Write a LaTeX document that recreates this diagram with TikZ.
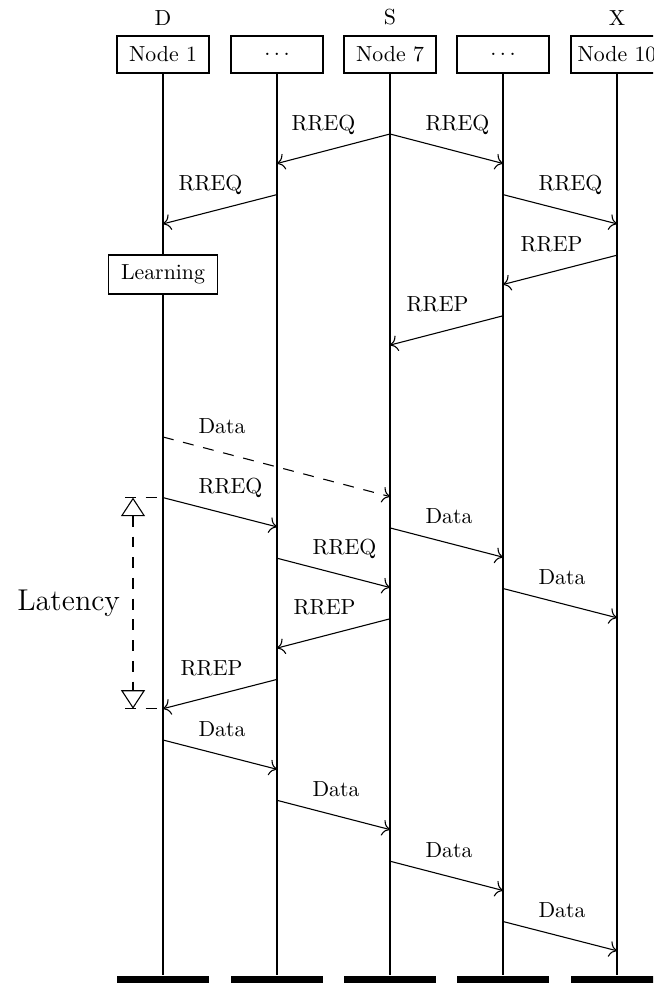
\documentclass[tikz,border=0pt]{standalone}
\usepackage{fontspec}
\usepackage{tikz}
\usetikzlibrary{positioning}
\usetikzlibrary{calc}
\usetikzlibrary{arrows.meta}

\begin{document}
\begin{tikzpicture}[x=0.4587pt,y=-0.4587pt,line width=0.5pt,
  thread/.style={draw,fill=white,minimum width=42.2pt,minimum height=17pt,inner sep=2pt},
  learnbox/.style={draw,fill=white,minimum width=50pt,minimum height=17.9pt,inner sep=2pt},
  endbar/.style={fill=black,minimum width=42.2pt,minimum height=8pt,inner sep=0pt,anchor=north},
  role/.style={above=1pt of #1},
  mess/.style={-{To[scale=1.3]}},
  dmess/.style={-{To[scale=1.3]},dash pattern=on 5pt off 4.5pt},
  dashline/.style={dash pattern=on 5pt off 4.5pt},
  latency/.style={{Triangle[open,length=8.5pt,width=11pt]}-{Triangle[open,length=8.5pt,width=11pt]},dash pattern=on 5pt off 4.5pt},
  lblL/.style={pos=0,anchor=base east,inner sep=0pt,xshift=-15.6pt,yshift=1.8pt},
  lblR/.style={pos=0,anchor=base west,inner sep=0pt,xshift=16.05pt,yshift=1.8pt}]
\clip (0,0) rectangle (653,983);

% threads
\node[thread](n1) at (163,54.5){Node 1};
\node[thread](n2) at (277,54.5){$\ldots$};
\node[thread](n3) at (390,54.5){Node 7};
\node[thread](n4) at (503,54.5){$\ldots$};
\node[thread](n5) at (617,54.5){Node 10};
\node[role=n1](roleD){D};
\node[role=n3](roleS){S};
\node[role=n5](roleX){X};
\node[learnbox](learn) at (163,274.5){Learning};
\node[endbar](e1) at (163,975){};
\node[endbar](e2) at (277,975){};
\node[endbar](e3) at (390,975){};
\node[endbar](e4) at (503,975){};
\node[endbar](e5) at (617,975){};

\path
(n1) edge (learn)
(learn) edge (e1)
(n2) edge (e2)
(n3) edge (e3)
(n4) edge (e4)
(n5) edge (e5);

% message ends
\coordinate (s1) at (n3 |- 0,134);
\coordinate (r1) at (n2 |- 0,163.5);
\coordinate (s2) at (n3 |- 0,134);
\coordinate (r2) at (n4 |- 0,163.5);
\coordinate (s3) at (n2 |- 0,194.6);
\coordinate (r3) at (n1 |- 0,223.9);
\coordinate (s4) at (n4 |- 0,194.6);
\coordinate (r4) at (n5 |- 0,223.9);
\coordinate (s5) at (n5 |- 0,255.2);
\coordinate (r5) at (n4 |- 0,284.5);
\coordinate (s6) at (n4 |- 0,315.8);
\coordinate (r6) at (n3 |- 0,345.1);
\coordinate (s7) at (n1 |- 0,437);
\coordinate (r7) at (n3 |- 0,496.6);
\coordinate (s8) at (n1 |- 0,497.6);
\coordinate (r8) at (n2 |- 0,526.9);
\coordinate (s9) at (n3 |- 0,527.9);
\coordinate (r9) at (n4 |- 0,557.2);
\coordinate (s10) at (n2 |- 0,558.2);
\coordinate (r10) at (n3 |- 0,587.5);
\coordinate (s11) at (n4 |- 0,588.5);
\coordinate (r11) at (n5 |- 0,617.8);
\coordinate (s12) at (n3 |- 0,618.8);
\coordinate (r12) at (n2 |- 0,648.1);
\coordinate (s13) at (n2 |- 0,679.4);
\coordinate (r13) at (n1 |- 0,708.7);
\coordinate (s14) at (n1 |- 0,740);
\coordinate (r14) at (n2 |- 0,769.3);
\coordinate (s15) at (n2 |- 0,800.3);
\coordinate (r15) at (n3 |- 0,829.6);
\coordinate (s16) at (n3 |- 0,861.2);
\coordinate (r16) at (n4 |- 0,890.5);
\coordinate (s17) at (n4 |- 0,921.5);
\coordinate (r17) at (n5 |- 0,950.8);

\path
(s1) edge[mess]node[lblL]{RREQ} (r1)
(s2) edge[mess]node[lblR]{RREQ} (r2)
(s3) edge[mess]node[lblL]{RREQ} (r3)
(s4) edge[mess]node[lblR]{RREQ} (r4)
(s5) edge[mess]node[lblL]{RREP} (r5)
(s6) edge[mess]node[lblL]{RREP} (r6)
(s7) edge[dmess]node[lblR]{Data} (r7)
(s8) edge[mess]node[lblR]{RREQ} (r8)
(s9) edge[mess]node[lblR]{Data} (r9)
(s10) edge[mess]node[lblR]{RREQ} (r10)
(s11) edge[mess]node[lblR]{Data} (r11)
(s12) edge[mess]node[lblL]{RREP} (r12)
(s13) edge[mess]node[lblL]{RREP} (r13)
(s14) edge[mess]node[lblR]{Data} (r14)
(s15) edge[mess]node[lblR]{Data} (r15)
(s16) edge[mess]node[lblR]{Data} (r16)
(s17) edge[mess]node[lblR]{Data} (r17);

% latency
\coordinate (latA) at (125,497.6);
\coordinate (latB) at (125,708.7);
\coordinate (latTop) at (133,497.6);
\coordinate (latBot) at (133,708.7);
\path
(latA) edge[dashline] (s8)
(latB) edge[dashline] (r13)
(latTop) edge[latency]node[midway,left=5.7pt,inner sep=0pt,font=\fontsize{13.8}{16}\selectfont]{Latency} (latBot);
\end{tikzpicture}
\end{document}
